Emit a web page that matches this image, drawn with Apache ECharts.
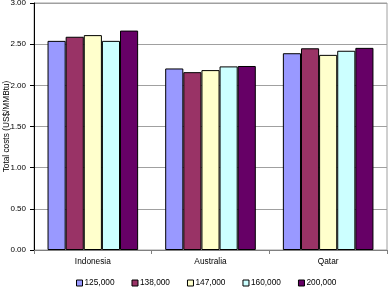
<!DOCTYPE html>
<html><head><meta charset="utf-8">
<script src="https://cdn.jsdelivr.net/npm/echarts@6/dist/echarts.min.js"></script>
<style>html,body{margin:0;padding:0;background:#fff}#c{width:391px;height:299px}</style>
</head><body><div id="c"></div>
<script>
var categories = ['Indonesia', 'Australia', 'Qatar'];
var seriesNames = ['125,000', '138,000', '147,000', '160,000', '200,000'];
var s125 = [2.54, 2.205, 2.39];
var s138 = [2.59, 2.16, 2.45];
var s147 = [2.61, 2.185, 2.37];
var s160 = [2.54, 2.23, 2.42];
var s200 = [2.665, 2.235, 2.455];
var yTicks = ['0.00','0.50','1.00','1.50','2.00','2.50','3.00'];
var colors = ['#9999FF', '#993366', '#FFFFCC', '#CCFFFF', '#660066'];
var values = [s125, s138, s147, s160, s200];

var chart = echarts.init(document.getElementById('c'), null, {renderer: 'canvas'});
var font = 'Liberation Sans, Arial, sans-serif';
chart.setOption({
  animation: false,
  color: colors,
  grid: {left: 34, right: 4, top: 3, bottom: 49, outerBoundsMode: 'none',
    show: true, borderColor: '#a0a0a0', borderWidth: 1, backgroundColor: 'transparent'},
  legend: {
    top: 274, left: 71, itemWidth: 6, itemHeight: 6, itemGap: 17,
    icon: 'rect',
    textStyle: {fontFamily: font, fontSize: 8.3, color: '#000', padding: [0, 0, 0, -3]},
    data: seriesNames.map(function(n){return {name: n, itemStyle: {borderColor: '#000', borderWidth: 1}};})
  },
  xAxis: {
    type: 'category', data: categories,
    axisLine: {lineStyle: {color: '#808080', width: 1}},
    axisTick: {show: true, length: 4, lineStyle: {color: '#808080'}},
    axisLabel: {fontFamily: font, fontSize: 8.3, color: '#000', margin: 8},
    splitLine: {show: false}
  },
  yAxis: {
    type: 'value', min: 0, max: 3, interval: 0.5,
    name: 'Total costs (US$/MMBtu)', nameLocation: 'middle', nameGap: 23,
    nameMoveOverlap: false,
    nameTextStyle: {fontFamily: font, fontSize: 8.3, color: '#000'},
    axisLine: {show: true, lineStyle: {color: '#000', width: 1}},
    axisTick: {show: true, length: 4, lineStyle: {color: '#000'}},
    axisLabel: {fontFamily: font, fontSize: 8, color: '#000', margin: 8,
      formatter: function(v){ return yTicks[Math.round(v / 0.5)]; }},
    splitLine: {show: true, lineStyle: {color: '#a0a0a0', width: 1}}
  },
  series: seriesNames.map(function(n, i){
    return {
      name: n, type: 'bar', data: values[i],
      barGap: '0%', barCategoryGap: '23%',
      itemStyle: {color: colors[i], borderColor: '#000', borderWidth: 1}
    };
  })
});
</script></body></html>
